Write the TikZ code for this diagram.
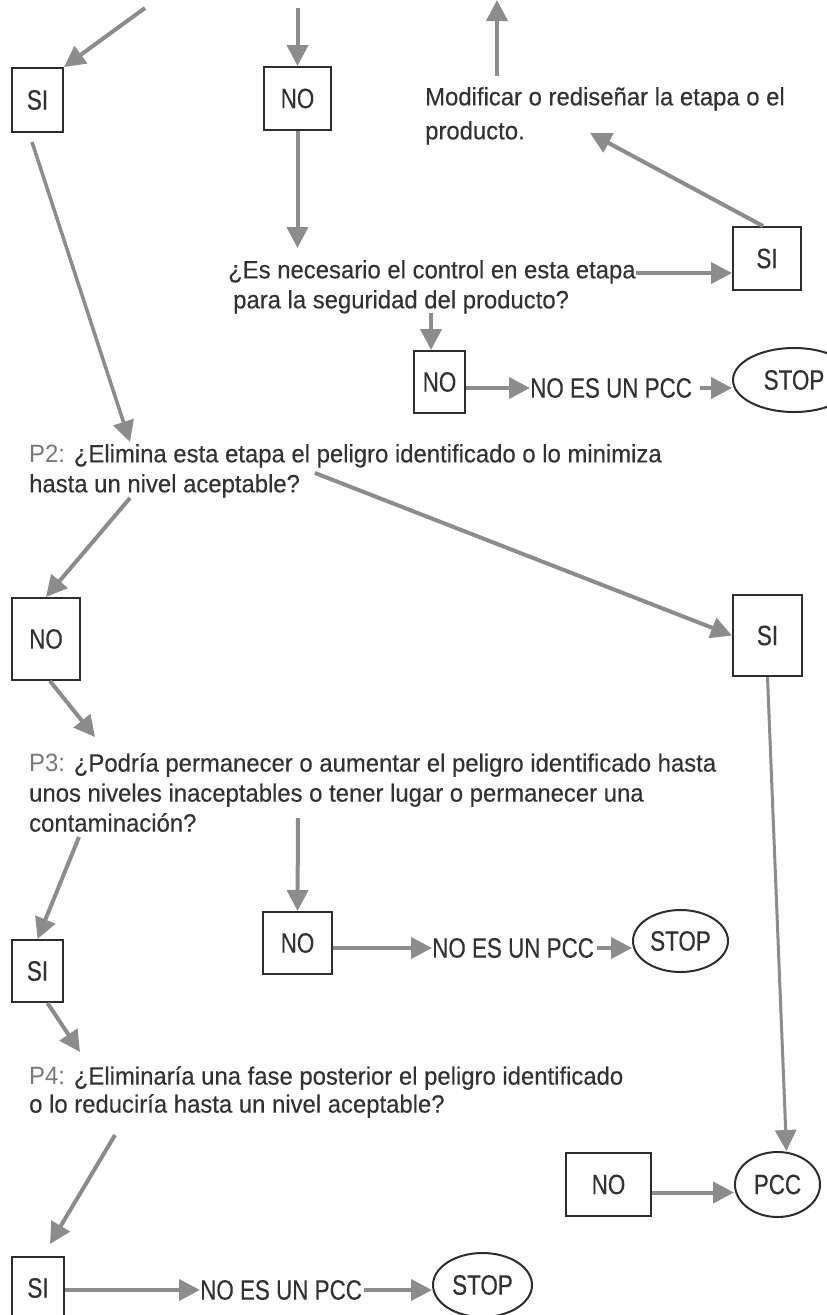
\documentclass[tikz,border=0pt]{standalone}
\usepackage{fontspec}
\setmainfont{Liberation Sans}[FakeStretch=0.955, FakeBold=0.3]
\newfontfamily\labelfont{Liberation Sans}[FakeStretch=0.955]
\newfontfamily\capsfont{Liberation Sans}[FakeStretch=0.8, FakeBold=0.3]
\usetikzlibrary{arrows.meta,shapes.geometric}
\definecolor{arrowgray}{RGB}{140,140,140}
\definecolor{inkgray}{RGB}{50,50,50}
\definecolor{labelgray}{RGB}{120,120,120}
\definecolor{framegray}{RGB}{45,45,45}
\tikzset{
  box/.style = {draw=framegray, line width=2pt, text=inkgray, inner sep=0pt,
    node font=\capsfont\fontsize{28pt}{32pt}\selectfont},
  stopnode/.style = {box, ellipse},
  txt/.style = {inner sep=0pt, align=left, anchor=north west, text=inkgray},
  caps/.style = {inner sep=0pt, anchor=west, text=inkgray,
    node font=\capsfont\fontsize{28pt}{32pt}\selectfont},
  flow/.style = {draw=arrowgray, line width=4pt, -{Triangle[length=21pt,width=21pt]}}
}
\newcommand{\qlabel}[1]{{\labelfont\color{labelgray}#1}}
\begin{document}
\begin{tikzpicture}[x=1pt, y=-1pt, node font=\fontsize{25pt}{30pt}\selectfont]
    \useasboundingbox (0,0) rectangle (827,1315);
    \foreach \name/\x/\y/\w/\h/\label in {si1/37.5/100/51/64/SI, no1/297.5/98.5/67/63/NO,
        si2/767/258.5/68/63/SI, no2/439.5/382/51/62/NO, no3/46/639/68/82/NO,
        si3/767.5/635.5/69/81/SI, si4/37.5/971/51/62/SI, no4/297.5/943/69/62/NO,
        no5/608.5/1184.5/85/63/NO, si5/38/1288/52/62/SI}
        \node [box, minimum width=\w pt, minimum height=\h pt] (\name) at (\x,\y) {\label};
    \foreach \name/\x/\y/\w/\h/\label in {stop1/794/380/122/64/STOP, stop2/680.5/941/95/62/STOP,
        pcc/777.5/1184.5/85/65/PCC, stop3/482.5/1285/99/64/STOP}
        \node [stopnode, minimum width=\w pt, minimum height=\h pt] (\name) at (\x,\y) {\label};
    \node [txt] (mod) at (425,87) {Modificar o rediseñar la etapa o el\\[4pt]producto.};
    \node [txt] (q1) at (228,260) {¿Es necesario el control en esta etapa\\\hspace*{5pt}para la seguridad del producto?};
    \node [txt] (p2) at (29,444) {\qlabel{P2:} ¿Elimina esta etapa el peligro identificado o lo minimiza\\hasta un nivel aceptable?};
    \node [txt] (p3) at (29,753) {\qlabel{P3:} ¿Podría permanecer o aumentar el peligro identificado hasta\\unos niveles inaceptables o tener lugar o permanecer una\\contaminación?};
    \node [txt, node font=\fontsize{25pt}{28pt}\selectfont] (p4) at (29,1066) {\qlabel{P4:} ¿Eliminaría una fase posterior el peligro identificado\\o lo reduciría hasta un nivel aceptable?};
    \node [caps] (nopcc1) at (530,388) {NO ES UN PCC};
    \node [caps] (nopcc2) at (432,948) {NO ES UN PCC};
    \node [caps] (nopcc3) at (200,1290) {NO ES UN PCC};
    \coordinate (top1) at (145,8);
    \coordinate (top2) at (297.5,8);
    \coordinate (upfoot) at (497,76);
    \coordinate (up) at (497,0);
    \coordinate (modin) at (590,133);
    \coordinate (q1in) at (297.5,248);
    \coordinate (q1out) at (636,273);
    \coordinate (q1down) at (431,313);
    \coordinate (si1out) at (32,142);
    \coordinate (p2in) at (130,442);
    \coordinate (p2left) at (130,498);
    \coordinate (p2right) at (315,473);
    \coordinate (p3in) at (95,737);
    \coordinate (p3left) at (79,837);
    \coordinate (p3mid) at (298,818);
    \coordinate (p4in) at (80,1052);
    \coordinate (p4out) at (115,1135);
    \draw [flow] (top1) -- (si1.north east);
    \draw [flow] (top2) -- (no1.north);
    \draw [flow] (upfoot) -- (up);
    \draw [flow] ([xshift=-4pt]si2.north) -- (modin);
    \draw [flow] (no1.south) -- (q1in);
    \draw [flow] (q1out) -- (q1out -| si2.west);
    \draw [flow] (q1down) -- (q1down |- no2.north);
    \draw [flow] (no2.east |- nopcc1.west) -- (nopcc1.west);
    \draw [flow] ([xshift=8pt]nopcc1.east) -- (nopcc1.east -| stop1.west);
    \draw [flow, line width=3.5pt] (si1out) -- (p2in);
    \draw [flow] (p2left) -- (no3.north);
    \draw [flow] (p2right) -- (si3.west);
    \draw [flow] ([xshift=4pt]no3.south) -- (p3in);
    \draw [flow, line width=3pt] (si3.south) -- ([xshift=9pt]pcc.north);
    \draw [flow] (p3left) -- (si4.north);
    \draw [flow] (p3mid) -- (no4.north);
    \draw [flow] (no4.east |- nopcc2.west) -- (nopcc2.west);
    \draw [flow] ([xshift=3pt]nopcc2.east) -- (nopcc2.east -| stop2.west);
    \draw [flow] ([xshift=10pt]si4.south) -- (p4in);
    \draw [flow] (p4out) -- ([xshift=12pt,yshift=12pt]si5.north);
    \draw [flow] (si5.east |- nopcc3.west) -- (nopcc3.west);
    \draw [flow] ([xshift=2pt]nopcc3.east) -- (nopcc3.east -| stop3.west);
    \draw [flow] ([yshift=-8pt]no5.east) -- ([yshift=-8pt]no5.east -| pcc.west);
\end{tikzpicture}
\end{document}
